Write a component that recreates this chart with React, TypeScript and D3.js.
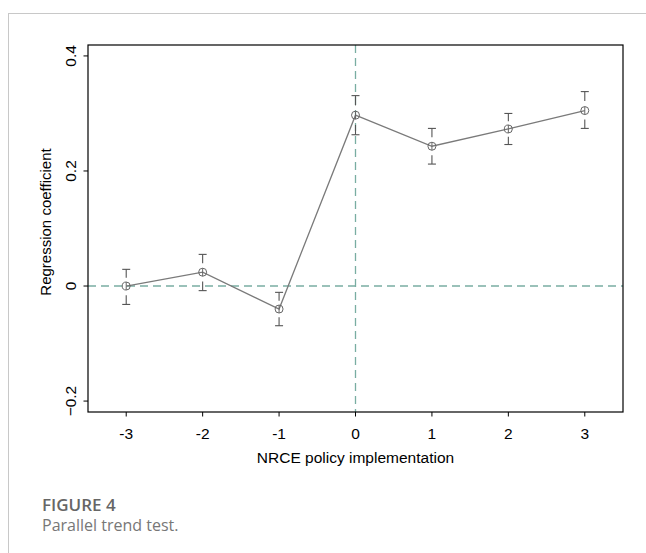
import React from 'react'
import * as d3 from 'd3'

// event-time periods relative to NRCE policy
const periods = [-3, -2, -1, 0, 1, 2, 3]
const coef = [0.0, 0.024, -0.04, 0.297, 0.243, 0.273, 0.305]
const ciLow = [-0.032, -0.008, -0.069, 0.263, 0.212, 0.246, 0.274]
const ciHigh = [0.029, 0.055, -0.011, 0.331, 0.274, 0.3, 0.338]
const xTicks = [-3, -2, -1, 0, 1, 2, 3]
const yTicks = [-0.2, 0, 0.2, 0.4]

const W = 646
const H = 553
const margin = { top: 45, right: 23, bottom: 141, left: 88 }

export default function App() {
  const x = d3
    .scaleLinear()
    .domain([-3.5, 3.5])
    .range([margin.left, W - margin.right])
  const y = d3
    .scaleLinear()
    .domain([-0.219, 0.419])
    .range([H - margin.bottom, margin.top])

  const line = d3
    .line<number>()
    .x((d, i) => x(periods[i]))
    .y((d) => y(d))

  const font = '"Liberation Sans", Arial, sans-serif'
  const capFont = '"Open Sans", Lato, sans-serif'
  const refColor = '#79ada2'
  const ciColor = '#555'
  const x0 = margin.left
  const x1 = W - margin.right
  const y0 = H - margin.bottom
  const y1 = margin.top

  return (
    <svg width={W} height={H} style={{ position: 'absolute', left: 0, top: 0 }}>
      <rect width={W} height={H} fill="#fff" />
      {/* page frame */}
      <line x1={8} y1={13.5} x2={W} y2={13.5} stroke="#c8c8c8" />
      <line x1={8.5} y1={13} x2={8.5} y2={H} stroke="#c8c8c8" />

      {/* reference lines */}
      <line x1={x0} x2={x1} y1={y(0)} y2={y(0)} stroke={refColor} strokeWidth={1.3} strokeDasharray="8,5" />
      <line x1={x(0)} x2={x(0)} y1={y1} y2={y0} stroke={refColor} strokeWidth={1.3} strokeDasharray="8,5" />

      {/* confidence intervals */}
      {periods.map((p, i) => {
        const cx = x(p)
        const cy = y(coef[i])
        const top = y(ciHigh[i])
        const bot = y(ciLow[i])
        return (
          <g key={p} stroke={ciColor} strokeWidth={1.1}>
            <line x1={cx - 4} x2={cx + 4} y1={top} y2={top} />
            <line x1={cx} x2={cx} y1={top} y2={top + (cy - top) * 0.5} />
            <line x1={cx - 4} x2={cx + 4} y1={bot} y2={bot} />
            <line x1={cx} x2={cx} y1={bot} y2={bot - (bot - cy) * 0.5} />
          </g>
        )
      })}

      {/* coefficient line */}
      <path d={line(coef) || ''} fill="none" stroke="#7a7a7a" strokeWidth={1.3} />
      {periods.map((p, i) => (
        <g key={p} stroke="#666" strokeWidth={1} fill="none">
          <circle cx={x(p)} cy={y(coef[i])} r={4} />
          <line x1={x(p)} x2={x(p)} y1={y(coef[i]) - 4} y2={y(coef[i]) + 4} />
        </g>
      ))}

      {/* plot box */}
      <rect x={x0} y={y1} width={x1 - x0} height={y0 - y1} fill="none" stroke="#000" strokeWidth={1.2} />

      {/* x axis */}
      {xTicks.map((t) => (
        <g key={t}>
          <line x1={x(t)} x2={x(t)} y1={y0} y2={y0 + 4.5} stroke="#000" />
          <text x={x(t)} y={y0 + 27} textAnchor="middle" fontFamily={font} fontSize={15.5} fill="#000">
            {t}
          </text>
        </g>
      ))}
      <text x={(x0 + x1) / 2} y={463} textAnchor="middle" fontFamily={font} fontSize={15.5} fill="#000">
        NRCE policy implementation
      </text>

      {/* y axis */}
      {yTicks.map((t) => (
        <g key={t}>
          <line x1={x0 - 4.5} x2={x0} y1={y(t)} y2={y(t)} stroke="#000" />
          <text
            transform={`translate(${x0 - 12},${y(t)}) rotate(-90)`}
            textAnchor="middle"
            fontFamily={font}
            fontSize={15.5}
            fill="#000"
          >
            {d3.format('')(+t.toFixed(1))}
          </text>
        </g>
      ))}
      <text
        transform={`translate(51,222) rotate(-90)`}
        textAnchor="middle"
        fontFamily={font}
        fontSize={15}
        fill="#000"
      >
        Regression coefficient
      </text>

      {/* caption */}
      <text x={42} y={511} fontFamily={capFont} fontWeight={600} fontSize={17} fill="#666">
        FIGURE 4
      </text>
      <text x={42} y={531} fontFamily={capFont} fontSize={16} fill="#777">
        Parallel trend test.
      </text>
    </svg>
  )
}
